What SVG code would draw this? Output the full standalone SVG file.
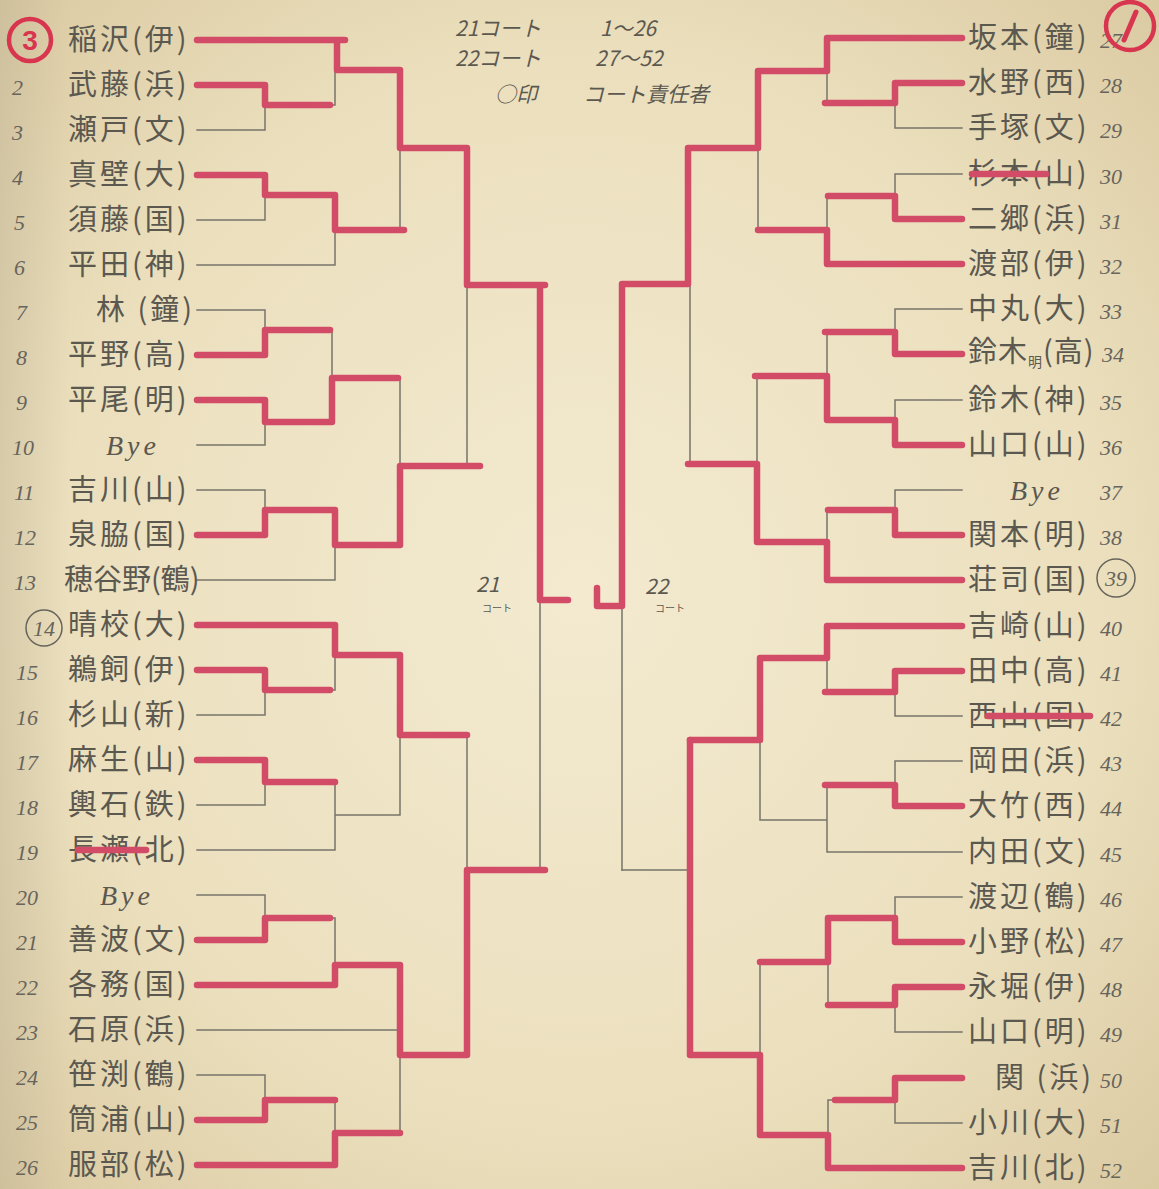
<svg xmlns="http://www.w3.org/2000/svg" width="1159" height="1189" viewBox="0 0 1159 1189">
<defs>
<radialGradient id="paper" cx="0.5" cy="0.5" r="0.75">
<stop offset="0" stop-color="#f3ead0"/>
<stop offset="0.6" stop-color="#ebdfbd"/>
<stop offset="1" stop-color="#d8c79e"/>
</radialGradient>
<linearGradient id="edge" x1="0" y1="0" x2="1" y2="0">
<stop offset="0" stop-color="#b8ad92" stop-opacity="0.35"/>
<stop offset="0.06" stop-color="#b8ad92" stop-opacity="0"/>
<stop offset="1" stop-color="#b8ad92" stop-opacity="0"/>
</linearGradient>
<style>
.g{fill:none;stroke:#77746a;stroke-width:1.5;stroke-linecap:square}
.r{fill:none;stroke:#d24b67;stroke-width:6.5;stroke-linecap:round;stroke-linejoin:round}
.n{font-family:"Noto Sans CJK JP","Noto Sans CJK SC",sans-serif;font-size:29px;fill:#5b5850;letter-spacing:3px}
.num{font-family:"Liberation Serif",serif;font-style:italic;font-size:22px;fill:#67645c}
.bye{font-family:"Liberation Serif",serif;font-style:italic;font-size:28px;fill:#5b5850;letter-spacing:4px}
.h{font-family:"Noto Sans CJK JP",sans-serif;font-size:21px;fill:#5b5850;font-style:italic}
.hs{font-family:"Noto Sans CJK JP",sans-serif;font-size:10px;fill:#5b5850}
</style>
</defs>
<rect x="0" y="0" width="1159" height="1189" fill="url(#paper)"/>
<rect x="0" y="0" width="1159" height="1189" fill="url(#edge)"/>

<g id="header">
<text class="h" x="455" y="36">21コート</text>
<text class="h" x="600" y="36">1～26</text>
<text class="h" x="455" y="66">22コート</text>
<text class="h" x="595" y="66">27～52</text>
<text class="h" x="495" y="102">○印</text>
<text class="h" x="583" y="102">コート責任者</text>
<text class="h" x="476" y="592">21</text>
<text class="hs" x="482" y="612">コート</text>
<text class="h" x="645" y="594">22</text>
<text class="hs" x="655" y="612">コート</text>
</g>

<g id="connectors">
<g id="gray">
<path class="g" d="M197 40H335M197 85H265M197 130H265M265 85V130M265 105H335M335 40V105M335 70H400"/>
<path class="g" d="M197 175H265M197 220H265M265 175V220M265 195H335M197 265H335M335 195V265M335 230H400M400 70V230M400 148H467"/>
<path class="g" d="M197 310H265M197 355H265M265 310V355M265 330H332M197 400H265M197 445H265M265 400V445M265 422H332M332 330V422M332 378H400"/>
<path class="g" d="M197 490H265M197 535H265M265 490V535M265 510H335M197 580H335M335 510V580M335 545H400M400 378V545M400 466H467M467 148V466M467 285H540M540 285V870"/>
<path class="g" d="M197 625H335M197 670H265M197 715H265M265 670V715M265 690H335M335 625V690M335 655H400"/>
<path class="g" d="M197 760H265M197 805H265M265 760V805M265 782H335M197 850H335M335 782V850M335 815H400M400 655V815M400 735H467"/>
<path class="g" d="M197 895H265M197 940H265M265 895V940M265 918H335M197 985H335M335 918V985M335 965H400M197 1030H400"/>
<path class="g" d="M197 1075H265M197 1120H265M265 1075V1120M265 1100H335M197 1165H335M335 1100V1165M335 1133H400M400 965V1133M400 1055H467M467 735V1055M467 870H540"/>
<path class="g" d="M962 38H827M962 83H895M962 128H895M895 83V128M895 103H827M827 38V103M827 71H758"/>
<path class="g" d="M962 174H895M962 219H895M895 174V219M895 196H827M962 264H827M827 196V264M827 230H758M758 71V230M758 148H690"/>
<path class="g" d="M962 309H895M962 354H895M895 309V354M895 332H827M962 400H895M962 445H895M895 400V445M895 420H827M827 332V420M827 376H757"/>
<path class="g" d="M962 490H895M962 535H895M895 490V535M895 510H827M962 580H827M827 510V580M827 542H757M757 376V542M757 464H690M690 148V464M690 284H622M622 284V870"/>
<path class="g" d="M962 626H827M962 671H895M962 716H895M895 671V716M895 692H827M827 626V692M827 658H760"/>
<path class="g" d="M962 761H895M962 806H895M895 761V806M895 785H827M962 852H827M827 785V852M827 820H760M760 658V820M760 740H690"/>
<path class="g" d="M962 897H895M962 942H895M895 897V942M895 918H828M962 987H895M962 1032H895M895 987V1032M895 1005H828M828 918V1005M828 962H760"/>
<path class="g" d="M962 1078H895M962 1123H895M895 1078V1123M895 1100H828M962 1168H828M828 1100V1168M828 1135H760M760 962V1135M760 1055H690M690 740V1055M690 870H622"/>
</g>
<g id="red">
<path class="r" d="M197 40H345M337 40V70H400V148H467V285H545M540 285V600H568"/>
<path class="r" d="M197 85H265V105H330"/>
<path class="r" d="M197 175H265V195H335V230H404"/>
<path class="r" d="M197 355H265V330H330"/>
<path class="r" d="M197 400H265V422H332V378H398"/>
<path class="r" d="M197 535H265V510H335V545H400V466H480"/>
<path class="r" d="M197 625H335V655H400V735H467"/>
<path class="r" d="M197 670H265V690H330"/>
<path class="r" d="M197 760H265V782H335"/>
<path class="r" d="M197 940H265V918H330"/>
<path class="r" d="M197 985H335V965H400V1055H467V870H545"/>
<path class="r" d="M197 1120H265V1100H335"/>
<path class="r" d="M197 1165H335V1133H400"/>
<path class="r" d="M962 38H827V71H758V148H688V284H622V606H597V588"/>
<path class="r" d="M962 83H895V103H825"/>
<path class="r" d="M962 219H895V196H828"/>
<path class="r" d="M962 264H827V230H758"/>
<path class="r" d="M962 354H895V332H825"/>
<path class="r" d="M962 445H895V420H827V376H755"/>
<path class="r" d="M962 535H895V510H828"/>
<path class="r" d="M962 580H827V542H757V464H688"/>
<path class="r" d="M962 626H827V658H760V740H690"/>
<path class="r" d="M962 671H895V692H825"/>
<path class="r" d="M962 806H895V785H825"/>
<path class="r" d="M962 942H895V918H828V962H760"/>
<path class="r" d="M962 987H895V1005H828"/>
<path class="r" d="M962 1078H895V1100H835"/>
<path class="r" d="M962 1168H828V1135H760V1055H690V740"/>
</g>
</g>

<g id="p1"><circle cx="30" cy="40" r="21" fill="none" stroke="#d8354f" stroke-width="4.5"/><text x="30" y="50" text-anchor="middle" font-family="Liberation Sans,sans-serif" font-weight="bold" font-size="28" fill="#d8354f">3</text><text class="n" x="68" y="50">稲沢(伊)</text></g>
<g id="p2"><text class="num" x="12" y="95">2</text><text class="n" x="68" y="95">武藤(浜)</text></g>
<g id="p3"><text class="num" x="12" y="140">3</text><text class="n" x="68" y="140">瀬戸(文)</text></g>
<g id="p4"><text class="num" x="12" y="185">4</text><text class="n" x="68" y="185">真壁(大)</text></g>
<g id="p5"><text class="num" x="14" y="230">5</text><text class="n" x="68" y="230">須藤(国)</text></g>
<g id="p6"><text class="num" x="14" y="275">6</text><text class="n" x="68" y="275">平田(神)</text></g>
<g id="p7"><text class="num" x="16" y="320">7</text><text class="n" x="96" y="320">林 (鐘)</text></g>
<g id="p8"><text class="num" x="16" y="365">8</text><text class="n" x="68" y="365">平野(高)</text></g>
<g id="p9"><text class="num" x="16" y="410">9</text><text class="n" x="68" y="410">平尾(明)</text></g>
<g id="p10"><text class="num" x="12" y="455">10</text><text class="bye" x="106" y="455">Bye</text></g>
<g id="p11"><text class="num" x="14" y="500">11</text><text class="n" x="68" y="500">吉川(山)</text></g>
<g id="p12"><text class="num" x="14" y="545">12</text><text class="n" x="68" y="545">泉脇(国)</text></g>
<g id="p13"><text class="num" x="14" y="590">13</text><text class="n" x="64" y="590" style="letter-spacing:0">穂谷野(鶴)</text></g>
<g id="p14"><circle cx="44" cy="628" r="18" fill="none" stroke="#67645c" stroke-width="1.5"/><text class="num" x="44" y="636" text-anchor="middle" font-size="18">14</text><text class="n" x="68" y="635">晴校(大)</text></g>
<g id="p15"><text class="num" x="16" y="680">15</text><text class="n" x="68" y="680">鵜飼(伊)</text></g>
<g id="p16"><text class="num" x="16" y="725">16</text><text class="n" x="68" y="725">杉山(新)</text></g>
<g id="p17"><text class="num" x="16" y="770">17</text><text class="n" x="68" y="770">麻生(山)</text></g>
<g id="p18"><text class="num" x="16" y="815">18</text><text class="n" x="68" y="815">輿石(鉄)</text></g>
<g id="p19"><text class="num" x="16" y="860">19</text><text class="n" x="68" y="860">長瀬(北)</text><path class="r" d="M78 850H146" stroke-width="5"/></g>
<g id="p20"><text class="num" x="16" y="905">20</text><text class="bye" x="100" y="905">Bye</text></g>
<g id="p21"><text class="num" x="16" y="950">21</text><text class="n" x="68" y="950">善波(文)</text></g>
<g id="p22"><text class="num" x="16" y="995">22</text><text class="n" x="68" y="995">各務(国)</text></g>
<g id="p23"><text class="num" x="16" y="1040">23</text><text class="n" x="68" y="1040">石原(浜)</text></g>
<g id="p24"><text class="num" x="16" y="1085">24</text><text class="n" x="68" y="1085">笹渕(鶴)</text></g>
<g id="p25"><text class="num" x="16" y="1130">25</text><text class="n" x="68" y="1130">筒浦(山)</text></g>
<g id="p26"><text class="num" x="16" y="1175">26</text><text class="n" x="68" y="1175">服部(松)</text></g>

<g id="p27"><text class="n" x="968" y="48">坂本(鐘)</text><text class="num" x="1100" y="48">27</text><circle cx="1130" cy="26" r="24" fill="none" stroke="#d8354f" stroke-width="4.5"/><path d="M1136 12L1124 40" stroke="#d8354f" stroke-width="5" stroke-linecap="round"/></g>
<g id="p28"><text class="n" x="968" y="93">水野(西)</text><text class="num" x="1100" y="93">28</text></g>
<g id="p29"><text class="n" x="968" y="138">手塚(文)</text><text class="num" x="1100" y="138">29</text></g>
<g id="p30"><text class="n" x="968" y="184">杉本(山)</text><text class="num" x="1100" y="184">30</text><path class="r" d="M972 174H1046" stroke-width="5"/></g>
<g id="p31"><text class="n" x="968" y="229">二郷(浜)</text><text class="num" x="1100" y="229">31</text></g>
<g id="p32"><text class="n" x="968" y="274">渡部(伊)</text><text class="num" x="1100" y="274">32</text></g>
<g id="p33"><text class="n" x="968" y="319">中丸(大)</text><text class="num" x="1100" y="319">33</text></g>
<g id="p34"><text class="n" x="968" y="362" style="letter-spacing:1px">鈴木<tspan font-size="14" dy="5">明</tspan><tspan dy="-5">(高)</tspan></text><text class="num" x="1102" y="362">34</text></g>
<g id="p35"><text class="n" x="968" y="410">鈴木(神)</text><text class="num" x="1100" y="410">35</text></g>
<g id="p36"><text class="n" x="968" y="455">山口(山)</text><text class="num" x="1100" y="455">36</text></g>
<g id="p37"><text class="bye" x="1010" y="500">Bye</text><text class="num" x="1100" y="500">37</text></g>
<g id="p38"><text class="n" x="968" y="545">関本(明)</text><text class="num" x="1100" y="545">38</text></g>
<g id="p39"><text class="n" x="968" y="590">荘司(国)</text><circle cx="1116" cy="578" r="19" fill="none" stroke="#67645c" stroke-width="1.5"/><text class="num" x="1116" y="586" text-anchor="middle" font-size="19">39</text></g>
<g id="p40"><text class="n" x="968" y="636">吉崎(山)</text><text class="num" x="1100" y="636">40</text></g>
<g id="p41"><text class="n" x="968" y="681">田中(高)</text><text class="num" x="1100" y="681">41</text></g>
<g id="p42"><text class="n" x="968" y="726">西山(国)</text><text class="num" x="1100" y="726">42</text><path class="r" d="M988 716H1090" stroke-width="5"/></g>
<g id="p43"><text class="n" x="968" y="771">岡田(浜)</text><text class="num" x="1100" y="771">43</text></g>
<g id="p44"><text class="n" x="968" y="816">大竹(西)</text><text class="num" x="1100" y="816">44</text></g>
<g id="p45"><text class="n" x="968" y="862">内田(文)</text><text class="num" x="1100" y="862">45</text></g>
<g id="p46"><text class="n" x="968" y="907">渡辺(鶴)</text><text class="num" x="1100" y="907">46</text></g>
<g id="p47"><text class="n" x="968" y="952">小野(松)</text><text class="num" x="1100" y="952">47</text></g>
<g id="p48"><text class="n" x="968" y="997">永堀(伊)</text><text class="num" x="1100" y="997">48</text></g>
<g id="p49"><text class="n" x="968" y="1042">山口(明)</text><text class="num" x="1100" y="1042">49</text></g>
<g id="p50"><text class="n" x="995" y="1088">関 (浜)</text><text class="num" x="1100" y="1088">50</text></g>
<g id="p51"><text class="n" x="968" y="1133">小川(大)</text><text class="num" x="1100" y="1133">51</text></g>
<g id="p52"><text class="n" x="968" y="1178">吉川(北)</text><text class="num" x="1100" y="1178">52</text></g>
</svg>
